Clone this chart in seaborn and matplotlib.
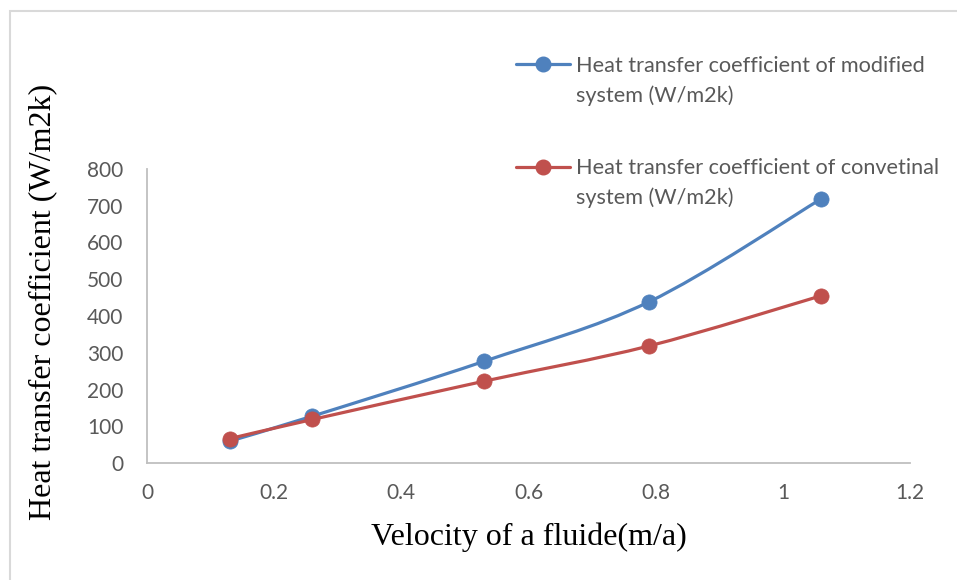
import numpy as np
import matplotlib
matplotlib.use("Agg")
import matplotlib.pyplot as plt
from matplotlib.path import Path
from matplotlib.patches import PathPatch, Rectangle
from matplotlib.lines import Line2D
import seaborn as sns

# Data
velocity = [0.13, 0.26, 0.53, 0.79, 1.06]
h_modified = [60, 128, 277, 439, 718]
h_conventional = [67, 119, 223, 319, 455]
series_labels = [
    ["Heat transfer coefficient of modified", "system (W/m2k)"],
    ["Heat transfer coefficient of convetinal", "system (W/m2k)"],
]
x_ticks = [0, 0.2, 0.4, 0.6, 0.8, 1, 1.2]
x_tick_labels = ["0", "0.2", "0.4", "0.6", "0.8", "1", "1.2"]
y_ticks = [0, 100, 200, 300, 400, 500, 600, 700, 800]

BLUE = "#4F81BD"
RED = "#C0504D"
TICK_GREY = "#595959"
SPINE_GREY = "#BFBFBF"

sns.set_theme(style="white")
plt.rcParams["font.family"] = ["Lato", "DejaVu Sans"]

fig = plt.figure(figsize=(9.57, 5.80), dpi=100)
ax = fig.add_axes([147 / 957, 1 - 463.3 / 580, 763 / 957, 294.5 / 580])


def smooth_path(xs, ys):
    """Cubic Bezier path through the points (Catmull-Rom style tangents)."""
    pts = np.column_stack([xs, ys]).astype(float)
    n = len(pts)
    verts = [pts[0]]
    codes = [Path.MOVETO]
    for i in range(n - 1):
        p0 = pts[i - 1] if i > 0 else pts[i]
        p1 = pts[i]
        p2 = pts[i + 1]
        p3 = pts[i + 2] if i + 2 < n else pts[i + 1]
        c1 = p1 + (p2 - p0) / 6.0
        c2 = p2 - (p3 - p1) / 6.0
        verts += [c1, c2, p2]
        codes += [Path.CURVE4] * 3
    return Path(verts, codes)


for ys, color, z in [(h_modified, BLUE, 2), (h_conventional, RED, 4)]:
    ax.add_patch(PathPatch(smooth_path(velocity, ys), fill=False,
                           edgecolor=color, lw=2.3, zorder=z,
                           capstyle="round", joinstyle="round"))
    sns.scatterplot(x=velocity, y=ys, color=color, s=120, edgecolor=color,
                    linewidth=0.5, ax=ax, zorder=z + 1, legend=False)

ax.set_xlim(0, 1.2)
ax.set_ylim(0, 800)
ax.set_xticks(x_ticks)
ax.set_xticklabels(x_tick_labels)
ax.set_yticks(y_ticks)
ax.tick_params(axis="both", length=0, labelsize=15, labelcolor=TICK_GREY)
ax.tick_params(axis="x", pad=14)
ax.tick_params(axis="y", pad=17)
ax.grid(False)

for side in ["top", "right"]:
    ax.spines[side].set_visible(False)
for side in ["left", "bottom"]:
    ax.spines[side].set_color(SPINE_GREY)
    ax.spines[side].set_linewidth(1.3)

serif = ["Liberation Serif", "DejaVu Serif"]
ax.set_xlabel("Velocity of a fluide(m/a)", fontsize=23, family=serif,
              color="black", va="center")
ax.xaxis.set_label_coords(0.5, (463.3 - 537) / 294.5)
ax.set_ylabel("Heat transfer coefficient (W/m2k)", fontsize=23, family=serif,
              color="black", va="center")
ax.yaxis.set_label_coords((43 - 147) / 763, (463.3 - 302) / 294.5)

# Legend drawn in figure space, handle aligned with the first text line
legend_rows = [(64, BLUE, series_labels[0]), (167, RED, series_labels[1])]
for y_px, color, lines in legend_rows:
    yf = 1 - y_px / 580
    fig.add_artist(Line2D([516 / 957, 543 / 957, 570 / 957], [yf, yf, yf],
                          transform=fig.transFigure, color=color, lw=2.3,
                          marker="o", markersize=10.5, markevery=[1],
                          markeredgecolor=color))
    for k, txt in enumerate(lines):
        fig.text(576 / 957, 1 - (y_px + 7.5 + 30 * k) / 580, txt,
                 fontsize=15.6, color=TICK_GREY, va="baseline", ha="left")

# Chart frame
fig.add_artist(Rectangle((9.5 / 957, -0.1), 1.2, 1.1 - 11 / 580,
                         transform=fig.transFigure, fill=False,
                         edgecolor="#D9D9D9", lw=1.5))

fig.savefig("out.png", dpi=100, facecolor="white")
